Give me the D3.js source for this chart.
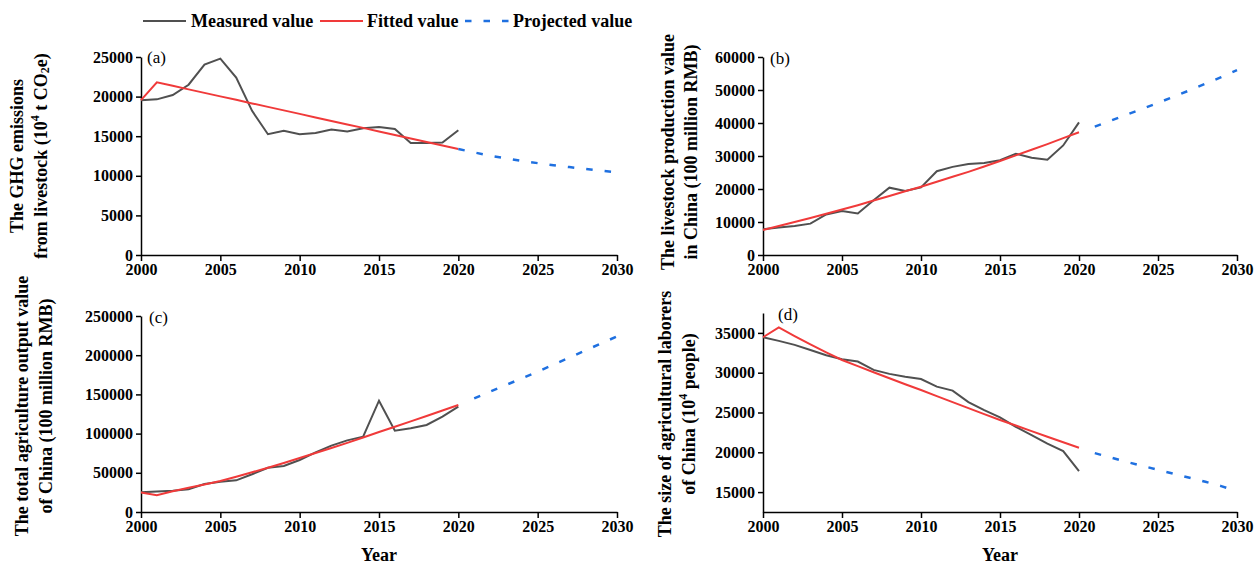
<!DOCTYPE html>
<html>
<head>
<meta charset="utf-8">
<script src="https://cdn.jsdelivr.net/npm/d3@7"></script>
<style>
  body { margin: 0; background: #fff; }
  svg { display: block; font-family: 'Liberation Serif', 'Times New Roman', serif; }
</style>
</head>
<body>
<div id="chart"></div>
<script>
// years
const years = [2000, 2001, 2002, 2003, 2004, 2005, 2006, 2007, 2008, 2009, 2010,
  2011, 2012, 2013, 2014, 2015, 2016, 2017, 2018, 2019, 2020];
const projYearsA = [2020, 2021, 2022, 2023, 2024, 2025, 2026, 2027, 2028, 2029, 2030];
const projYears = [2021, 2022, 2023, 2024, 2025, 2026, 2027, 2028, 2029, 2030];
const xTicks = [2000, 2005, 2010, 2015, 2020, 2025, 2030];

// (a) GHG emissions from livestock
const ghgMeasured = [19550, 19650, 20200, 21500, 24050, 24800, 22400, 18200, 15250, 15700,
  15250, 15400, 15850, 15600, 16000, 16150, 15900, 14150, 14150, 14200, 15750];
const ghgFitted = [19550, 21800, 21360, 20910, 20470, 20030, 19590, 19140, 18700, 18260,
  17820, 17370, 16930, 16490, 16050, 15600, 15160, 14720, 14280, 13830, 13380];
const ghgProjected = [13380, 12950, 12550, 12200, 11880, 11600, 11330, 11100, 10870, 10640, 10420];
const ghgTicks = [0, 5000, 10000, 15000, 20000, 25000];

// (b) livestock production value
const lpvMeasured = [7800, 8300, 8800, 9500, 12300, 13300, 12600, 16600, 20400, 19400,
  20500, 25400, 26700, 27600, 27900, 28700, 30700, 29500, 28900, 33200, 40200];
const lpvFitted = [7600, 8800, 10000, 11200, 12500, 13800, 15100, 16500, 17900, 19300,
  20700, 22200, 23700, 25200, 26800, 28500, 30200, 31900, 33600, 35400, 37200];
const lpvProjected = [38900, 40700, 42500, 44300, 46100, 48000, 49900, 51900, 53900, 56000];
const lpvTicks = [0, 10000, 20000, 30000, 40000, 50000, 60000];

// (c) total agriculture output value
const taoMeasured = [25200, 26000, 27000, 29000, 35700, 38700, 40400, 48100, 56500, 58700,
  66300, 76100, 84600, 91400, 96100, 142000, 103700, 106700, 111000, 121600, 134300];
const taoFitted = [25000, 21500, 26500, 30800, 35000, 39500, 45000, 50700, 56500, 62500,
  68800, 75200, 81600, 88200, 95000, 102000, 108800, 115600, 122400, 129400, 136500];
const taoProjected = [145000, 153500, 162000, 170500, 179000, 188000, 197000, 206000, 215000, 224000];
const taoTicks = [0, 50000, 100000, 150000, 200000, 250000];

// (d) agricultural laborers
const labMeasured = [34450, 34000, 33500, 32850, 32200, 31700, 31400, 30350, 29850, 29500,
  29200, 28250, 27750, 26300, 25300, 24400, 23200, 22150, 21100, 20150, 17650];
const labFitted = [34450, 35700, 34600, 33550, 32550, 31600, 30830, 30060, 29300, 28550,
  27820, 27060, 26300, 25550, 24800, 24060, 23360, 22660, 21960, 21260, 20580];
const labProjected = [19900, 19350, 18800, 18300, 17800, 17300, 16800, 16300, 15750, 15100];
const labTicks = [15000, 20000, 25000, 30000, 35000];

const colors = { measured: '#505050', fitted: '#f03a3a', projected: '#1f70e0' };

const panels = [
  { label: '(a)', measured: ghgMeasured, fitted: ghgFitted, projected: ghgProjected, projYrs: projYearsA,
    domain: [0, 25000], ticks: ghgTicks, left: 141, right: 617, top: 57, bottom: 255,
    labelPos: [147, 63], titleX: [17, 41], titleY: 156,
    title: [['The GHG emissions'], ['from livestock (10', ['4', 'sup'], ' t CO', ['2', 'sub'], 'e)']] },
  { label: '(b)', measured: lpvMeasured, fitted: lpvFitted, projected: lpvProjected, projYrs: projYears,
    domain: [0, 60000], ticks: lpvTicks, left: 763, right: 1237, top: 57, bottom: 255,
    labelPos: [770, 64], titleX: [668, 691], titleY: 152,
    title: [['The livestock production value'], ['in China (100 million RMB)']] },
  { label: '(c)', measured: taoMeasured, fitted: taoFitted, projected: taoProjected, projYrs: projYears,
    domain: [0, 250000], ticks: taoTicks, left: 141, right: 617, top: 316, bottom: 512,
    labelPos: [149, 323], titleX: [22, 46], titleY: 406,
    title: [['The total agriculture output value'], ['of China (100 million RMB)']] },
  { label: '(d)', measured: labMeasured, fitted: labFitted, projected: labProjected, projYrs: projYears,
    domain: [12500, 37500], ticks: labTicks, left: 763, right: 1237, top: 313, bottom: 512,
    labelPos: [778, 320], titleX: [665, 689], titleY: 414,
    title: [['The size of agricultural laborers'], ['of China (10', ['4', 'sup'], ' people)']] },
];

const width = 1255, height = 566;

const svg = d3.select('#chart')
  .append('svg')
  .attr('width', width)
  .attr('height', height);

const styleAxis = (g, fontSize) => {
  g.select('.domain').attr('stroke', '#000').attr('stroke-width', 1.5);
  g.selectAll('.tick line').attr('stroke', '#000').attr('stroke-width', 1.5);
  g.selectAll('.tick text')
    .attr('fill', '#000')
    .attr('font-size', fontSize)
    .attr('font-weight', 'bold')
    .attr('font-family', "'Liberation Serif', 'Times New Roman', serif");
};

// rotated two-line title with sub/superscripts
const drawTitle = (p) => {
  p.title.forEach((parts, i) => {
    const t = svg.append('text')
      .attr('transform', `translate(${p.titleX[i]},${p.titleY}) rotate(-90)`)
      .attr('text-anchor', 'middle')
      .attr('dominant-baseline', 'central')
      .attr('font-size', 18)
      .attr('font-weight', 'bold')
      .attr('fill', '#000');
    let shift = 0;
    parts.forEach(part => {
      if (typeof part === 'string') {
        t.append('tspan').attr('dy', -shift).text(part);
        shift = 0;
      } else {
        const dy = part[1] === 'sup' ? -6 : 4;
        t.append('tspan').attr('dy', dy - shift).attr('font-size', 12).text(part[0]);
        shift = dy;
      }
    });
  });
};

const drawPanel = (p) => {
  const x = d3.scaleLinear().domain([2000, 2030]).range([p.left, p.right]);
  const y = d3.scaleLinear().domain(p.domain).range([p.bottom, p.top]);

  svg.append('g')
    .attr('transform', `translate(0,${p.bottom})`)
    .call(d3.axisBottom(x).tickValues(xTicks).tickFormat(d3.format('d')).tickSize(6).tickSizeOuter(0).tickPadding(3))
    .call(g => styleAxis(g, 16));

  svg.append('g')
    .attr('transform', `translate(${p.left},0)`)
    .call(d3.axisLeft(y).tickValues(p.ticks).tickFormat(d3.format('d')).tickSize(5).tickSizeOuter(0).tickPadding(3))
    .call(g => styleAxis(g, 16));

  const lineFn = yrs => d3.line()
    .x((d, i) => x(yrs[i]))
    .y(d => y(d));

  svg.append('path')
    .attr('d', lineFn(years)(p.measured))
    .attr('fill', 'none')
    .attr('stroke', colors.measured)
    .attr('stroke-width', 2);

  svg.append('path')
    .attr('d', lineFn(years)(p.fitted))
    .attr('fill', 'none')
    .attr('stroke', colors.fitted)
    .attr('stroke-width', 2);

  svg.append('path')
    .attr('d', lineFn(p.projYrs)(p.projected))
    .attr('fill', 'none')
    .attr('stroke', colors.projected)
    .attr('stroke-width', 2.5)
    .attr('stroke-dasharray', '6.5,12');

  svg.append('text')
    .attr('x', p.labelPos[0])
    .attr('y', p.labelPos[1])
    .attr('font-size', 17)
    .attr('fill', '#000')
    .text(p.label);

  drawTitle(p);

  if (p.bottom > 300) {
    svg.append('text')
      .attr('x', (p.left + p.right) / 2)
      .attr('y', 561)
      .attr('text-anchor', 'middle')
      .attr('font-size', 18)
      .attr('font-weight', 'bold')
      .attr('fill', '#000')
      .text('Year');
  }
};

panels.forEach(drawPanel);

// legend
const legendItems = [
  { name: 'Measured value', color: colors.measured, x1: 143, x2: 186, tx: 191, dash: null, w: 2 },
  { name: 'Fitted value', color: colors.fitted, x1: 320, x2: 363, tx: 367, dash: null, w: 2 },
  { name: 'Projected value', color: colors.projected, x1: 465, x2: 509, tx: 513, dash: '6.5,12', w: 2.5 },
];
const legend = svg.append('g').classed('legend', true);
legendItems.forEach(d => {
  legend.append('line')
    .attr('x1', d.x1).attr('x2', d.x2)
    .attr('y1', 21).attr('y2', 21)
    .attr('stroke', d.color)
    .attr('stroke-width', d.w)
    .attr('stroke-dasharray', d.dash);
  legend.append('text')
    .attr('x', d.tx)
    .attr('y', 27)
    .attr('font-size', 18)
    .attr('font-weight', 'bold')
    .attr('fill', '#000')
    .text(d.name);
});
</script>
</body>
</html>
